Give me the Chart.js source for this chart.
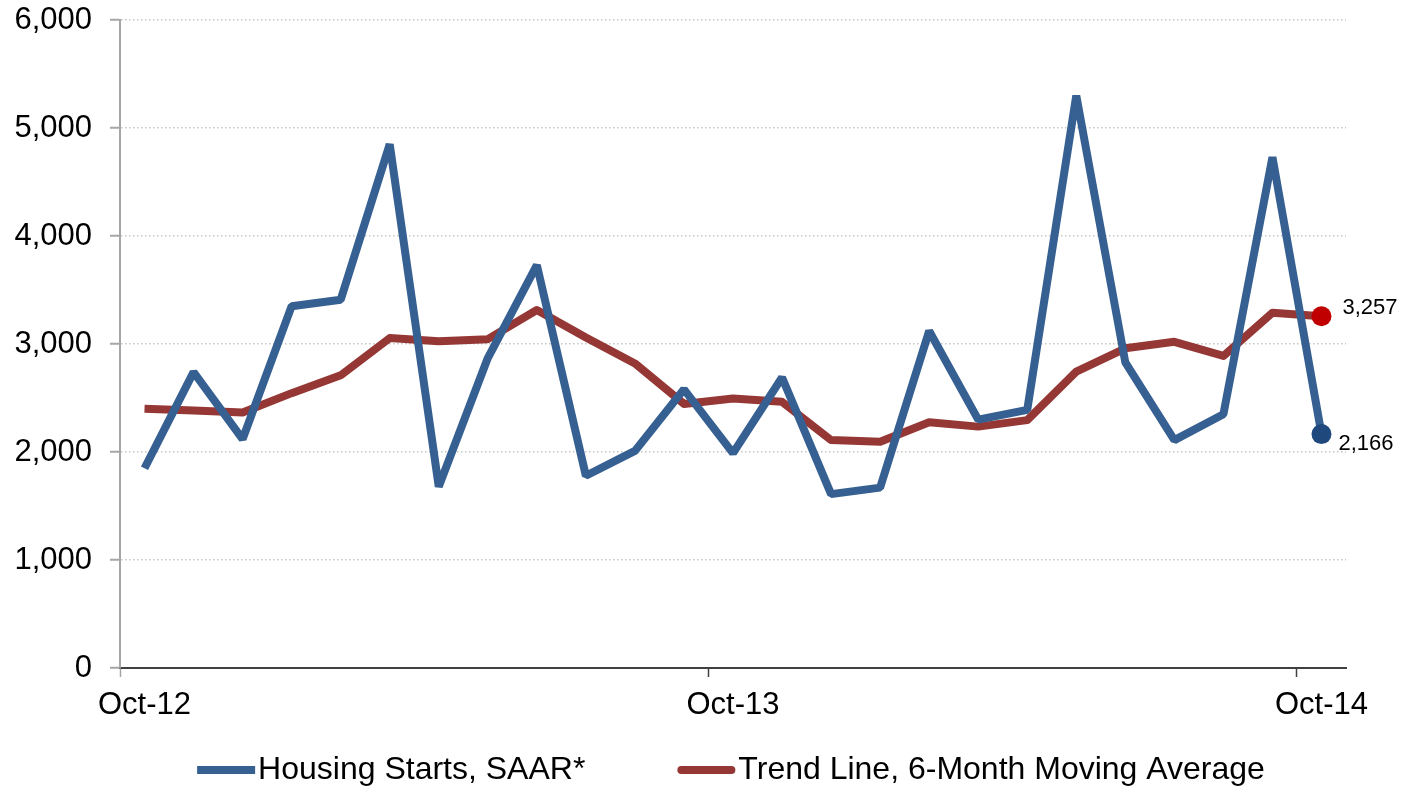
<!DOCTYPE html>
<html>
<head>
<meta charset="utf-8">
<script src="https://cdn.jsdelivr.net/npm/chart.js@4.4.1/dist/chart.umd.min.js"></script>
<style>
  html, body { margin: 0; padding: 0; background: #fff; }
  #wrap { width: 1415px; height: 792px; position: relative; }
</style>
</head>
<body>
<div id="wrap"><canvas id="chart"></canvas></div>
<script>
// months Oct-12 .. Oct-14
const months = ['Oct-12','Nov-12','Dec-12','Jan-13','Feb-13','Mar-13','Apr-13','May-13','Jun-13','Jul-13','Aug-13','Sep-13',
                'Oct-13','Nov-13','Dec-13','Jan-14','Feb-14','Mar-14','Apr-14','May-14','Jun-14','Jul-14','Aug-14','Sep-14','Oct-14'];
const housingStarts = [1850, 2740, 2120, 3350, 3410, 4850, 1680, 2870, 3730, 1780, 2010, 2580,
                       1990, 2690, 1610, 1670, 3120, 2300, 2390, 5300, 2830, 2110, 2350, 4730, 2166];
const trendLine = [2400, 2385, 2365, 2545, 2710, 3055, 3025, 3045, 3315, 3060, 2820, 2445,
                   2495, 2465, 2110, 2095, 2275, 2235, 2295, 2745, 2960, 3020, 2890, 3290, 3257];
const seriesNames = ['Housing Starts, SAAR*', 'Trend Line, 6-Month Moving Average'];
const yTicks = [0, 1000, 2000, 3000, 4000, 5000, 6000];

const FONT = '"Liberation Sans", Arial, sans-serif';
const last = months.length - 1;

// label next to last point of each line
const endLabels = {
    id: 'endLabels',
    afterDatasetsDraw(chart) {
        const ctx = chart.ctx;
        const offs = [{dx: 17, dy: 10}, {dx: 21, dy: -8}];
        ctx.save();
        ctx.font = '22px ' + FONT;
        ctx.fillStyle = '#000';
        ctx.textAlign = 'left';
        ctx.textBaseline = 'middle';
        chart.data.datasets.forEach(function (ds, i) {
            const pt = chart.getDatasetMeta(i).data[last];
            ctx.fillText(ds.data[last].toLocaleString('en-US'), pt.x + offs[i].dx, pt.y + offs[i].dy);
        });
        ctx.restore();
    }
};

// legend drawn by hand so the gap between swatch and text is small
const bottomLegend = {
    id: 'bottomLegend',
    afterDraw(chart) {
        const ctx = chart.ctx;
        const area = chart.chartArea;
        ctx.save();
        ctx.font = '32px ' + FONT;
        ctx.textBaseline = 'middle';
        ctx.textAlign = 'left';
        const sw = 58, gap = 3, between = 92;
        const items = chart.data.datasets.map(function (ds) {
            return { text: ds.label, color: ds.borderColor, w: ctx.measureText(ds.label).width };
        });
        let total = between * (items.length - 1);
        items.forEach(function (it) { total += sw + gap + it.w; });
        let x = (area.left + area.right) / 2 - total / 2 - 2;
        const y = chart.height - 22;
        items.forEach(function (it, i) {
            ctx.strokeStyle = it.color;
            ctx.lineWidth = 8;
            ctx.lineCap = i === 1 ? 'round' : 'butt';
            ctx.beginPath();
            ctx.moveTo(x + (i === 1 ? 4 : 0), y);
            ctx.lineTo(x + sw - (i === 1 ? 4 : 0), y);
            ctx.stroke();
            ctx.fillStyle = '#000';
            ctx.fillText(it.text, x + sw + gap, y);
            x += sw + gap + it.w + between;
        });
        ctx.restore();
    }
};

new Chart(document.getElementById('chart'), {
    type: 'line',
    data: {
        labels: months,
        datasets: [{
            label: seriesNames[0],
            data: housingStarts,
            borderColor: '#376092',
            borderWidth: 8,
            borderJoinStyle: 'bevel',
            tension: 0,
            pointRadius: function (c) { return c.dataIndex === last ? 10 : 0; },
            pointBackgroundColor: '#1F497D',
            pointBorderWidth: 0,
            pointHoverRadius: 0
        }, {
            label: seriesNames[1],
            data: trendLine,
            borderColor: '#953735',
            borderWidth: 8,
            borderJoinStyle: 'round',
            tension: 0,
            pointRadius: function (c) { return c.dataIndex === last ? 10 : 0; },
            pointBackgroundColor: '#C00000',
            pointBorderWidth: 0,
            pointHoverRadius: 0
        }]
    },
    options: {
        responsive: true,
        maintainAspectRatio: false,
        animation: false,
        events: [],
        layout: { padding: { top: 20, right: 69, bottom: 64, left: 0 } },
        plugins: {
            legend: { display: false },
            tooltip: { enabled: false }
        },
        scales: {
            x: {
                offset: true,
                afterFit: function (s) { s.height = 60; },
                grid: {
                    offset: true,
                    drawOnChartArea: false,
                    tickLength: 9,
                    tickWidth: 1.5,
                    color: function (c) { return c.index % 12 === 0 ? '#404040' : 'rgba(0,0,0,0)'; },
                    tickColor: function (c) { return c.index === 0 ? '#a6a6a6' : (c.index % 12 === 0 ? '#404040' : 'rgba(0,0,0,0)'); }
                },
                border: { color: '#404040', width: 2 },
                ticks: {
                    autoSkip: false,
                    maxRotation: 0,
                    padding: 10,
                    color: '#000',
                    font: { family: FONT, size: 31 },
                    callback: function (v, i) { return i % 12 === 0 ? months[i] : ''; }
                }
            },
            y: {
                min: 0,
                max: 6000,
                afterFit: function (s) { s.width = 120; },
                afterBuildTicks: function (s) { s.ticks = yTicks.map(function (v) { return { value: v }; }); },
                grid: {
                    color: '#c4c4c4',
                    lineWidth: 1.5,
                    tickColor: '#a6a6a6',
                    tickWidth: 2,
                    tickLength: 10,
                    tickBorderDash: []
                },
                border: { color: '#a6a6a6', width: 2, dash: [1.5, 2.5] },
                ticks: {
                    padding: 18,
                    color: '#000',
                    // small lineHeight only so the top label does not push the plot down
                    font: { family: FONT, size: 31, lineHeight: 0.1 },
                    callback: function (v) { return v.toLocaleString('en-US'); }
                }
            }
        }
    },
    plugins: [endLabels, bottomLegend]
});
</script>
</body>
</html>
